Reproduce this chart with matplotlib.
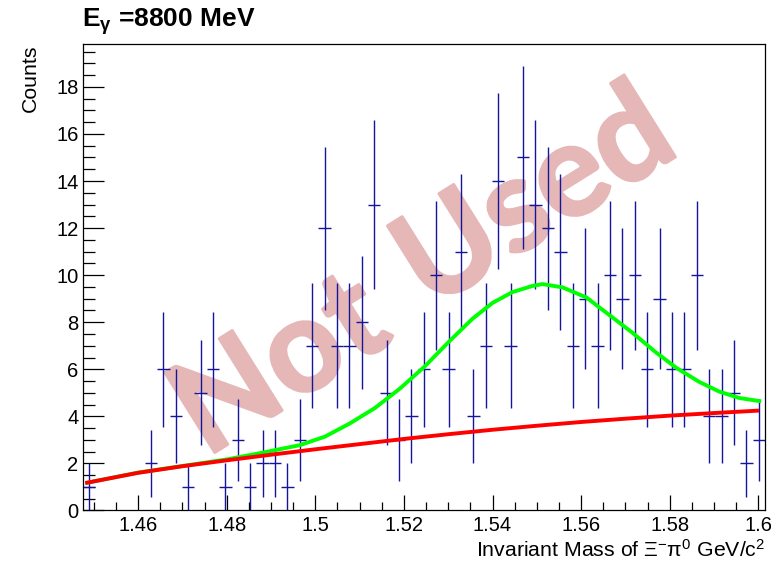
import numpy as np
import matplotlib.pyplot as plt
import matplotlib.patheffects as pe
from matplotlib.ticker import MultipleLocator

plt.rcParams['font.family'] = ['Liberation Sans', 'DejaVu Sans']
plt.rcParams['mathtext.fontset'] = 'custom'
plt.rcParams['mathtext.rm'] = 'Liberation Sans'
plt.rcParams['mathtext.it'] = 'Liberation Sans'
plt.rcParams['mathtext.bf'] = 'Liberation Sans:bold'
plt.rcParams['mathtext.default'] = 'regular'

# Histogram: 55 bins from 1.4475 to 1.6015 GeV
m_lo, m_hi = 1.4475, 1.6015
counts = [1, 0, 0, 0, 0, 2, 6, 4, 1, 5,
          6, 1, 3, 1, 2, 2, 1, 3, 7, 12,
          7, 7, 8, 13, 5, 3, 4, 6, 10, 6,
          11, 4, 7, 14, 7, 15, 13, 12, 11, 7,
          9, 7, 10, 9, 10, 6, 9, 6, 6, 10,
          4, 4, 5, 2, 3]

# Background fit (red)
bg_mass = [1.4485, 1.46, 1.47, 1.48, 1.49, 1.50, 1.51, 1.52, 1.53,
           1.54, 1.55, 1.56, 1.57, 1.58, 1.59, 1.5997]
bg_val = [1.18, 1.60, 1.88, 2.13, 2.37, 2.60, 2.82, 3.04, 3.24,
          3.43, 3.60, 3.76, 3.90, 4.03, 4.14, 4.24]

# Signal + background fit (green)
fit_mass = [1.4485, 1.46, 1.47, 1.48, 1.4882, 1.4966, 1.5022, 1.5078, 1.5135,
            1.5191, 1.5247, 1.5303, 1.5355, 1.5400, 1.5445, 1.5490, 1.5513,
            1.5558, 1.5612, 1.5664, 1.5716, 1.5770, 1.5815, 1.5866, 1.5912,
            1.5957, 1.6002]
fit_val = [1.18, 1.61, 1.89, 2.17, 2.46, 2.78, 3.14, 3.70, 4.36,
           5.18, 6.12, 7.20, 8.15, 8.82, 9.28, 9.54, 9.62,
           9.48, 9.05, 8.30, 7.55, 6.70, 6.06, 5.47, 5.05,
           4.78, 4.65]

counts = np.array(counts, dtype=float)
nbins = len(counts)
width = (m_hi - m_lo) / nbins
centers = m_lo + width * (np.arange(nbins) + 0.5)
filled = counts > 0

fig = plt.figure(figsize=(7.71, 5.64), dpi=100)
ax = fig.add_axes([0.1073, 0.0949, 0.8849, 0.8266])

ax.errorbar(centers[filled], counts[filled], yerr=np.sqrt(counts[filled]),
            xerr=width / 2, fmt='none', ecolor='#14149c', elinewidth=1.0,
            capsize=0, zorder=2)
ax.plot(fit_mass, fit_val, color='#00ff00', lw=2.8, zorder=3)
ax.plot(bg_mass, bg_val, color='#ff0000', lw=2.8, zorder=4)

# "Not Used" stamp, one word at a time
stamp_color = '#e5b7b7'
stamp = dict(transform=fig.transFigure, family=['Lato', 'DejaVu Sans'],
             fontweight='bold', fontsize=94, color=stamp_color, rotation=32,
             ha='center', va='center', zorder=1,
             path_effects=[pe.withStroke(linewidth=2, foreground=stamp_color,
                                         joinstyle='round')])
ax.text(0.3645, 0.3493, 'Not', **stamp)
ax.text(0.6952, 0.6454, 'Used', **stamp)

ax.set_xlim(m_lo, m_hi)
ax.set_ylim(0, 19.81)

ax.xaxis.set_major_locator(MultipleLocator(0.02))
ax.xaxis.set_minor_locator(MultipleLocator(0.005))
ax.yaxis.set_major_locator(MultipleLocator(2))
ax.yaxis.set_minor_locator(MultipleLocator(0.5))
ax.xaxis.set_major_formatter(plt.FuncFormatter(lambda v, p: f'{v:g}'))

ax.tick_params(axis='both', which='both', direction='in', top=False,
               right=False, width=0.9, colors='black', labelsize=14.5)
ax.tick_params(axis='x', which='major', length=11, pad=4)
ax.tick_params(axis='x', which='minor', length=5.5)
ax.tick_params(axis='y', which='major', length=15, pad=3)
ax.tick_params(axis='y', which='minor', length=8.5)
for s in ax.spines.values():
    s.set_linewidth(0.9)

fig.text(0.1063, 0.952, r'E$_{\gamma}$ =8800 MeV', fontsize=19,
         fontweight='bold', ha='left', va='baseline')
fig.text(0.039, 0.921, 'Counts', rotation=90, fontsize=15.3,
         ha='center', va='top')
fig.text(0.9922, 0.012, r'Invariant Mass of $\Xi^{-}\pi^{0}$ GeV/c$^{2}$',
         fontsize=15.3, ha='right', va='baseline')

fig.savefig('out.png', dpi=100)
